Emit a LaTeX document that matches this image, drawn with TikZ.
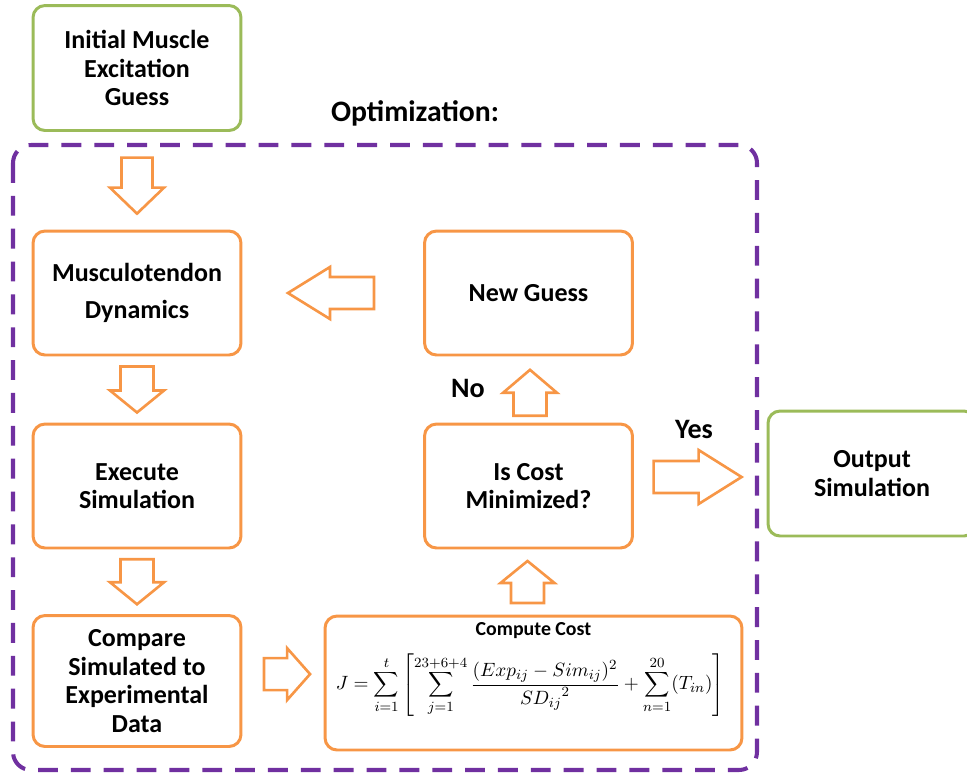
\documentclass[tikz,border=0pt]{standalone}
\usepackage{fontspec}
\setmainfont{Carlito}
\usetikzlibrary{calc}

\definecolor{boxorange}{HTML}{F79646}
\definecolor{boxgreen}{HTML}{9BBB59}
\definecolor{optpurple}{HTML}{7030A0}

\tikzset{
  stage/.style={draw=boxorange, line width=1.7pt, rounded corners=0.24cm,
    minimum width=4.16cm, minimum height=2.48cm, align=center,
    font=\fontsize{14.8}{16.2}\selectfont\bfseries},
  endpoint/.style={stage, draw=boxgreen},
  blk/.style={draw=boxorange, line width=1.5pt, line join=miter},
  optbox/.style={draw=optpurple, line width=2.3pt,
    dash pattern=on 11.3pt off 7.4pt, rounded corners=0.36cm},
  answer/.style={font=\fontsize{16}{18}\selectfont\bfseries}
}

% block arrow: centre, angle, length, head width, shaft width, head length
\newcommand{\blockarrow}[6]{%
  \draw[blk, shift={(#1)}, rotate=#2]
    ({-#3/2},{-#5/2}) -- ({#3/2-#6},{-#5/2}) -- ({#3/2-#6},{-#4/2})
    -- ({#3/2},0) -- ({#3/2-#6},{#4/2}) -- ({#3/2-#6},{#5/2})
    -- ({-#3/2},{#5/2}) -- cycle;}

\begin{document}
\begin{tikzpicture}[x=0.02cm, y=-0.02cm]
    \useasboundingbox (0,0) rectangle (967,772);

    % Optimization frame
    \draw[optbox] (13,145) rectangle (757,770);
    \node[font=\fontsize{16.9}{19}\selectfont\bfseries] (opttitle) at (415,113) {Optimization:};

    % Boxes
    \node[endpoint, minimum height=2.5cm] (init) at (137,68) {Initial Muscle\\Excitation\\Guess};
    \node[stage] (muscle) at (137,293) {Musculotendon\\[5pt]Dynamics};
    \node[stage] (execute) at (137,486) {Execute\\Simulation};
    \node[stage, minimum height=2.62cm] (compare) at (137,681) {Compare\\Simulated to\\Experimental\\Data};
    \node[stage] (newguess) at (528.5,293) {New Guess};
    \node[stage] (costmin) at (528.5,486) {Is Cost\\Minimized?};
    \node[stage, minimum width=8.34cm, minimum height=2.68cm] (compute) at (533.5,683) {};
    \node[endpoint, minimum height=2.5cm] (output) at (872,473.5) {Output\\Simulation};

    % Cost function inside the compute box
    \node[inner sep=0pt, font=\fontsize{11.3}{13}\selectfont\bfseries] (computetitle) at ($(compute.north)+(0,16)$) {Compute Cost};
    \node[inner sep=0pt, font=\fontsize{11.4}{13}\selectfont] (costfun) at (530,685)
      {$\displaystyle J=\sum_{i=1}^{t}\left[\sum_{j=1}^{23+6+4}\frac{(Exp_{ij}-Sim_{ij})^{2}}{{SD_{ij}}^{2}}+\sum_{n=1}^{20}(T_{in})\right]$};

    % Block arrows between the boxes
    \coordinate (a1) at ($(init.south)!0.55!(muscle.north)$);
    \coordinate (a2) at ($(muscle.south)!0.5!(execute.north)$);
    \coordinate (a3) at ($(execute.south)!0.5!(compare.north)$);
    \coordinate (a4) at ($(muscle.east)!0.49!(newguess.west)$);
    \coordinate (a5) at ($(costmin.north)!0.45!(newguess.south)+(1.5,0)$);
    \coordinate (a6) at ($(compute.north)!0.5!(costmin.south)+(-3.5,0)$);
    \coordinate (a7) at ($(compare.east)!0.55!(compute.west)+(0,-8)$);
    \coordinate (a8) at ($(costmin.east)!0.48!(output.west)+(0,-3)$);

    \blockarrow{a1}{-90}{56}{54}{31}{26}
    \blockarrow{a2}{-90}{46}{54}{33}{22}
    \blockarrow{a3}{-90}{45}{54}{33}{22}
    \blockarrow{a4}{180}{86}{52}{32}{42}
    \blockarrow{a5}{90}{46}{54}{33}{23}
    \blockarrow{a6}{90}{42}{54}{33}{22}
    \blockarrow{a7}{0}{46}{52}{32}{23}
    \blockarrow{a8}{0}{88}{54}{32}{43}

    % Decision labels
    \node[answer] (nolabel) at (468,388) {No};
    \node[answer] (yeslabel) at (694,429) {Yes};
\end{tikzpicture}
\end{document}
